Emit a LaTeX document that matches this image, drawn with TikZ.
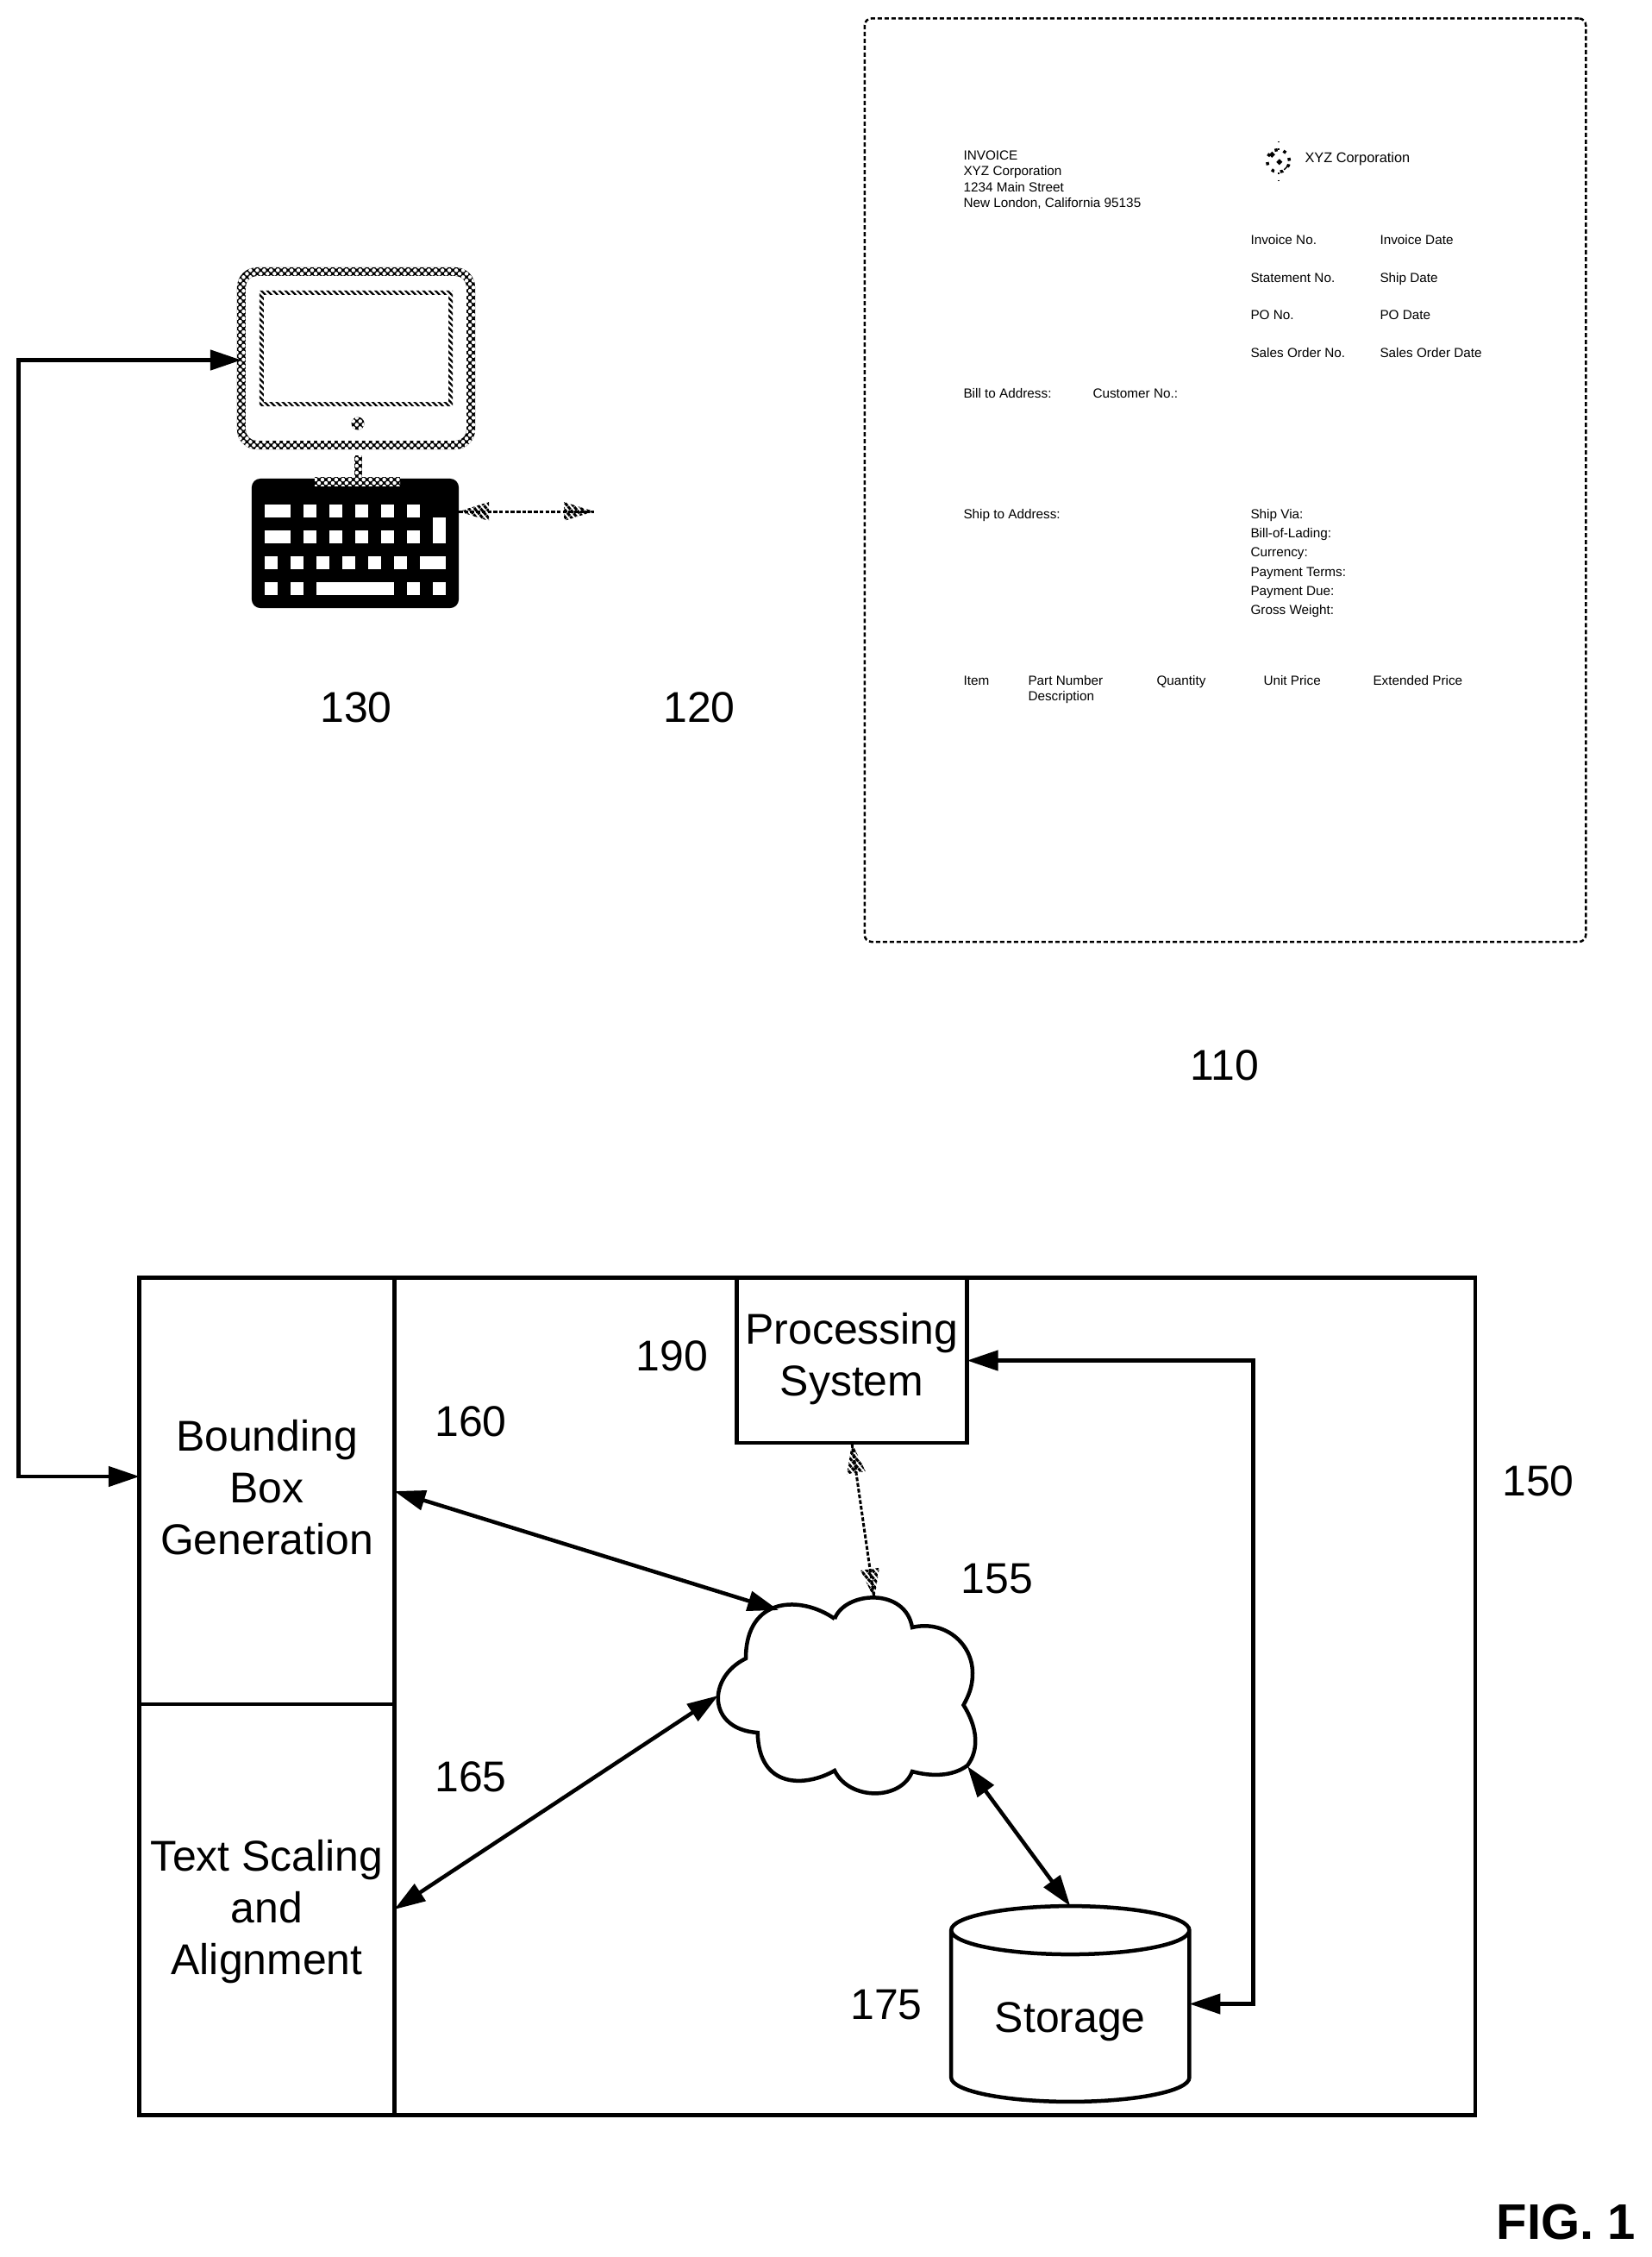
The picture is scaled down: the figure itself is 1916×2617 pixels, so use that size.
\documentclass[tikz,border=0pt]{standalone}
\usepackage{fontspec}
\setmainfont{Liberation Sans}
\usetikzlibrary{shapes.geometric}
\usetikzlibrary{arrows.meta}
\usetikzlibrary{patterns.meta}

\begin{document}
\begin{tikzpicture}
[ x=0.01cm, y=-0.01cm, outer sep=0pt,
block/.style ={rectangle, draw=black, line width=0.045cm, inner sep=0pt, align=center,
font=\fontsize{14.2pt}{17.07pt}\selectfont},
refnum/.style={inner sep=0pt, font=\fontsize{14.2pt}{17.07pt}\selectfont},
invtext/.style={anchor=mid west, inner sep=0pt, font=\fontsize{4.35pt}{5pt}\selectfont},
twoway/.style={line width=0.045cm, {Triangle[length=0.36cm,width=0.23cm]}-{Triangle[length=0.36cm,width=0.23cm]}},
oneway/.style={line width=0.045cm, -{Triangle[length=0.36cm,width=0.23cm]}},
checker/.style={fill=black, postaction={pattern={Dots[angle=45,distance=1.6pt,radius=0.64pt]}, pattern color=white}},
stripes/.style={pattern={Lines[angle=-45,distance=1.4pt,line width=0.65pt]}},
wire/.style={line width=0.03cm, dash pattern=on 0.045cm off 0.022cm},
hatchhead/.pic={\path[pattern={Lines[angle=-50,distance=1.5pt,line width=0.85pt]}] (0,0) -- (-35,-11) -- (-35,11) -- cycle;},
]
\useasboundingbox (0,0) rectangle (1916,2617);

% scanned page
\node (invoice) [rectangle, rounded corners=0.08cm, draw=black, line width=0.025cm,
dash pattern=on 0.05cm off 0.03cm, minimum width=8.36cm, minimum height=10.7cm] at (1421,556.7) {};
\begin{scope}[shift={(-3.5,-4.5)}]
\foreach \ix/\iy/\itxt [count=\n] in {
1121/181/INVOICE, 1121/199/XYZ Corporation, 1121/217.5/1234 Main Street,
1121/236/{New London, California 95135},
1454/279/Invoice No., 1604/279/Invoice Date, 1454/323/Statement No., 1604/323/Ship Date,
1454/366/PO No., 1604/366/PO Date, 1454/410/Sales Order No., 1604/410/Sales Order Date,
1121/457/Bill to Address:, 1271/457/Customer No.:, 1121/597/Ship to Address:,
1454/597/Ship Via:, 1454/619/Bill-of-Lading:, 1454/641/Currency:,
1454/664/Payment Terms:, 1454/686/Payment Due:, 1454/708/Gross Weight:,
1121/790/Item, 1196/790/Part Number, 1196/808/Description,
1345/790/Quantity, 1469/790/Unit Price, 1596/790/Extended Price}
  \node (inv\n) [invtext] at (\ix,\iy) {\itxt};
\node (logoname) [invtext, font=\fontsize{4.65pt}{5pt}\selectfont] at (1517,184) {XYZ Corporation};
\node (logo) [circle, draw=black, line width=0.035cm, dotted, minimum size=0.26cm, inner sep=0pt] at (1486,191) {};
\draw[line width=0.05cm, dotted] (1477,182) -- (1495,200);
\draw[line width=0.02cm, dotted] (logo.north) -- ++(0,-10);
\draw[line width=0.02cm, dotted] (logo.south) -- ++(0,10);
\end{scope}

% terminal
\node (monitor) [rectangle, minimum width=2.66cm, minimum height=2.01cm] at (413,415.5) {};
\path[checker, even odd rule]
  [rounded corners=0.23cm] ([shift={(-0.05cm,-0.05cm)}]monitor.south west) rectangle ([shift={(0.05cm,0.05cm)}]monitor.north east)
  [rounded corners=0.13cm] ([shift={(0.05cm,0.05cm)}]monitor.south west) rectangle ([shift={(-0.05cm,-0.05cm)}]monitor.north east);
\node (screen) [rectangle, minimum width=2.19cm, minimum height=1.29cm] at (413,404) {};
\path[stripes, even odd rule]
  ([shift={(-0.025cm,-0.025cm)}]screen.south west) rectangle ([shift={(0.025cm,0.025cm)}]screen.north east)
  ([shift={(0.025cm,0.025cm)}]screen.south west) rectangle ([shift={(-0.025cm,-0.025cm)}]screen.north east);
\node (button) [circle, checker, minimum size=0.15cm, inner sep=0pt] at (415,491) {};
\node (keybd) [rectangle, rounded corners=0.1cm, fill=black,
minimum width=2.4cm, minimum height=1.5cm] at (412,630) {};
\foreach \kx/\ky/\kw/\kh in {
307/585/30/15, 352/585/15/15, 382/585/15/15, 412/585/15/15, 442/585/15/15, 472/585/15/15,
307/615/30/15, 352/615/15/15, 382/615/15/15, 412/615/15/15, 442/615/15/15, 472/615/15/15,
502/600/15/30,
307/645/15/15, 337/645/15/15, 367/645/15/15, 397/645/15/15, 427/645/15/15, 457/645/15/15, 487/645/30/15,
307/675/15/15, 337/675/15/15, 367/675/90/15, 472/675/15/15, 502/675/15/15}
  \fill[white] (\kx,\ky) rectangle ++(\kw,\kh);
\path[checker] (365,553) rectangle (464,563);
\path[checker] (410.5,528) rectangle (419.5,553);
\coordinate (linkend) at (689,593);
\coordinate (keyport) at (532,593);
\draw[wire] (keyport) -- pic[pos=0,sloped,rotate=180] {hatchhead} pic[pos=1,sloped] {hatchhead} (linkend);

\node (n130) [refnum] at (413,820) {130};
\node (n120) [refnum] at (811,820) {120};
\node (n110) [refnum] at (1420,1235) {110};

% server
\node (server) [block, minimum width=15.487cm, minimum height=9.7cm] at (936.4,1967) {};
\node (bboxgen) [block, minimum width=2.953cm, minimum height=4.94cm, text depth=0.1cm] at (309.6,1729) {Bounding\\Box\\Generation};
\node (scaling) [block, minimum width=2.953cm, minimum height=4.76cm, text depth=0.06cm] at (309.6,2214) {Text Scaling\\and\\Alignment};
\node (proc) [block, minimum width=2.67cm, minimum height=1.91cm, text depth=0.135cm] at (988,1577.5) {Processing\\System};
\node (store) [block, cylinder, shape border rotate=90, shape aspect=0.32, fill=white, text depth=0cm,
minimum width=2.76cm, minimum height=2.267cm, anchor=shape center] at (1241.3,2323.5) {Storage};

% network
\draw[line width=0.045cm] (968,1877) .. controls (980,1845) and (1050,1840) .. (1058,1887)
.. controls (1095,1878) and (1128,1905) .. (1128,1940)
.. controls (1128,1955) and (1124,1965) .. (1117.5,1977)
.. controls (1135,2005) and (1135,2030) .. (1122,2047)
.. controls (1105,2060) and (1080,2060) .. (1058,2054)
.. controls (1045,2088) and (985,2088) .. (968,2053)
.. controls (935,2072) and (880,2075) .. (878.7,2009)
.. controls (820,2005) and (820,1945) .. (865,1923)
.. controls (865,1850) and (930,1850) .. (968,1877);
\coordinate (netnw) at (903,1867);
\coordinate (netw) at (833,1966);
\coordinate (netse) at (1122,2048);
\coordinate (nettop) at (1014,1854);
\coordinate (busl) at (21.6,1000);
\coordinate (busr) at (1453.5,2000);

\draw[twoway] (bboxgen.east) -- (netnw);
\draw[twoway] (scaling.east) -- (netw);
\draw[twoway] (netse) -- (store.north);
\draw[twoway] (proc.east) -| (busr) |- (store.shape center -| store.east);
\draw[oneway] (busl) |- ([yshift=-0.02cm]monitor.west);
\draw[oneway] (busl) |- ([yshift=0.17cm]bboxgen.west);
\draw[wire] (proc.south) -- pic[pos=0,sloped,rotate=180] {hatchhead} pic[pos=1,sloped] {hatchhead} (nettop);

\node (n190) [refnum] at (779.5,1572) {190};
\node (n160) [refnum] at (546,1648.5) {160};
\node (n165) [refnum] at (546,2060) {165};
\node (n155) [refnum] at (1156.6,1830.5) {155};
\node (n150) [refnum] at (1784,1717) {150};
\node (n175) [refnum] at (1028,2325) {175};
\node (figlabel) [inner sep=0pt, anchor=east, font=\fontsize{16.5pt}{20pt}\selectfont\bfseries] at (1897,2576) {FIG. 1};
\end{tikzpicture}
\end{document}
